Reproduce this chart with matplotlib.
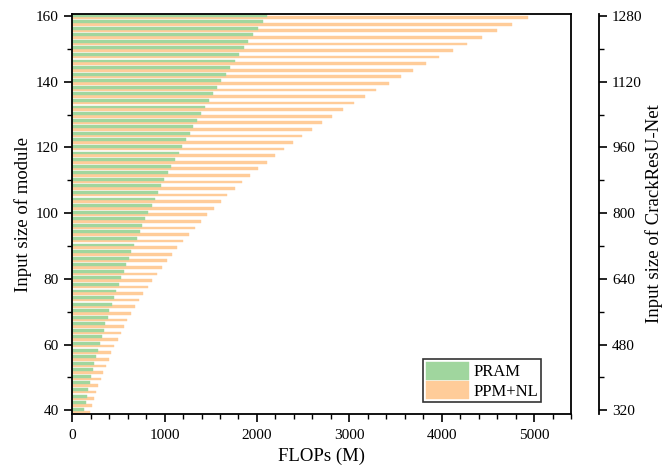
import numpy as np
import matplotlib
matplotlib.use("Agg")
import matplotlib.pyplot as plt
from matplotlib.ticker import MultipleLocator

plt.rcParams['font.family'] = ['Liberation Serif', 'DejaVu Serif']

# input size of module, 40..160 in steps of 2
sizes = list(range(40, 161, 2))

# FLOPs (M), ordered like sizes
pram = [130, 148, 163, 177, 191, 207, 221, 239, 261, 283,
        297, 322, 340, 358, 384, 402, 428, 449, 474, 503,
        528, 558, 583, 612, 641, 674, 699, 732, 761, 793,
        826, 862, 895, 927, 963, 996, 1039, 1072, 1112, 1155,
        1188, 1228, 1275, 1312, 1352, 1391, 1434, 1481, 1522, 1568,
        1616, 1663, 1710, 1757, 1810, 1855, 1905, 1955, 2010, 2065,
        2110]
ppm_nl = [196, 217, 235, 261, 283, 308, 337, 362, 395, 424,
          457, 492, 525, 558, 598, 641, 680, 728, 765, 818,
          862, 920, 971, 1025, 1079, 1134, 1199, 1264, 1326, 1391,
          1457, 1533, 1609, 1680, 1761, 1840, 1927, 2011, 2104, 2191,
          2293, 2387, 2489, 2598, 2707, 2815, 2930, 3050, 3174, 3293,
          3424, 3554, 3691, 3833, 3974, 4119, 4278, 4435, 4598, 4761,
          4930]

net_ticks = [320, 480, 640, 800, 960, 1120, 1280]

green = '#a0d69e'
orange = '#ffcc99'

fig = plt.figure(figsize=(6.68, 4.68), dpi=100)
ax = fig.add_axes([0.108, 0.115, 0.747, 0.855])

y = np.array(sizes)
ax.barh(y - 0.5, ppm_nl, height=0.8, color=orange, edgecolor=orange,
        linewidth=0.3, label='PPM+NL')
ax.barh(y + 0.3, pram, height=0.9, color=green, edgecolor=green,
        linewidth=0.3, label='PRAM')

ax.set_xlim(0, 5400)
ax.set_ylim(38.8, 160.6)
ax.xaxis.set_major_locator(MultipleLocator(1000))
ax.xaxis.set_minor_locator(MultipleLocator(200))
ax.yaxis.set_major_locator(MultipleLocator(20))
ax.yaxis.set_minor_locator(MultipleLocator(10))
ax.tick_params(which='major', direction='out', length=6, width=1.2, labelsize=11)
ax.tick_params(which='minor', direction='out', length=3.5, width=1.0)
ax.tick_params(axis='x', which='major', pad=5)
for s in ax.spines.values():
    s.set_linewidth(1.3)

ax.set_xlabel('FLOPs (M)', fontsize=13.5, labelpad=4)
ax.set_ylabel('Input size of module', fontsize=13.5, labelpad=3)

# second y axis for the network input size (8x module size)
ax2 = ax.twinx()
ax2.set_ylim(38.8 * 8, 160.6 * 8)
ax2.set_yticks(net_ticks)
ax2.yaxis.set_minor_locator(MultipleLocator(80))
ax2.spines['right'].set_position(('outward', 20))
ax2.spines['right'].set_linewidth(1.3)
for k in ['top', 'left', 'bottom']:
    ax2.spines[k].set_visible(False)
ax2.tick_params(which='major', direction='out', length=6, width=1.2, labelsize=11)
ax2.tick_params(which='minor', direction='out', length=3.5, width=1.0)
ax2.set_ylabel('Input size of CrackResU-Net', fontsize=13.5, labelpad=2)

h, l = ax.get_legend_handles_labels()
leg = ax.legend(h[::-1], l[::-1], loc='lower right', bbox_to_anchor=(0.94, 0.03),
                fontsize=12, frameon=True, fancybox=False, edgecolor='black',
                handlelength=2.6, handleheight=1.3, handletextpad=0.3,
                borderpad=0.15, labelspacing=0.05, borderaxespad=0)
leg.get_frame().set_linewidth(1.2)

fig.savefig('out.png', dpi=100)
